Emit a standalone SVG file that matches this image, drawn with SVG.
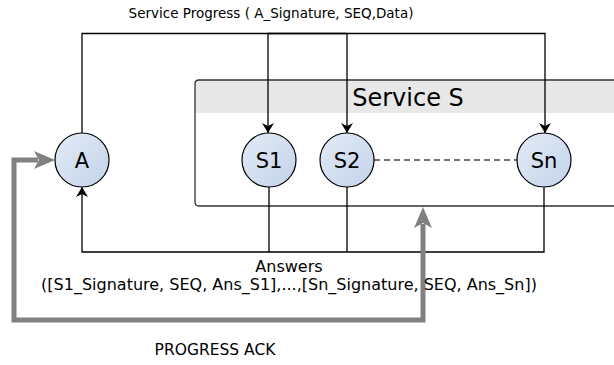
<svg xmlns="http://www.w3.org/2000/svg" width="614" height="365" viewBox="0 0 614 365">
  <defs>
    <linearGradient id="nodeFill" x1="0" y1="0" x2="1" y2="1">
      <stop offset="0" stop-color="#e3ebf6"/>
      <stop offset="1" stop-color="#c3d3ea"/>
    </linearGradient>
    <marker id="arrow" viewBox="0 0 10 12" refX="10" refY="6" markerWidth="10" markerHeight="12" markerUnits="userSpaceOnUse" orient="auto">
      <path d="M0,0 L10,6 L0,12 L3,6 Z" fill="#000"/>
    </marker>
  </defs>
  <style>
    text { font-family: "DejaVu Sans", "Liberation Sans", sans-serif; fill: #000; }
    .label { text-anchor: middle; }
    .node circle { fill: url(#nodeFill); stroke: #000; stroke-width: 1.2; }
    .node text { font-size: 21px; text-anchor: middle; }
    .wire { fill: none; stroke: #000; stroke-width: 1.3; }
    .ack { fill: none; stroke: #808080; stroke-width: 5; }
    .ack-head { fill: #808080; }
  </style>

  <rect width="614" height="365" fill="#fff"/>

  <!-- Service S container -->
  <g id="service-s">
    <path d="M199,80 H620 V113 H195 V84 Q195,80 199,80 Z" fill="#e8e8e8"/>
    <path d="M620,80 H199 Q195,80 195,84 V202 Q195,206 199,206 H620" fill="none" stroke="#333" stroke-width="1.3"/>
    <text x="408" y="106" font-size="24" text-anchor="middle">Service S</text>
  </g>

  <!-- connectors -->
  <g id="connectors">
    <path class="wire" d="M82,133 V33.5 H347 V133" marker-end="url(#arrow)"/>
    <path class="wire" d="M268,33.5 V133" marker-end="url(#arrow)"/>
    <path class="wire" d="M268,33.5 H545 V133" marker-end="url(#arrow)"/>
    <path class="wire" d="M269,187 V252 H82 V187" marker-end="url(#arrow)"/>
    <path class="wire" d="M347,187 V252"/>
    <path class="wire" d="M544,187 V252 H269"/>
    <path d="M374,160 H517" fill="none" stroke="#444" stroke-width="1.3" stroke-dasharray="6,4"/>
    <!-- progress acknowledgement loop -->
    <path class="ack" d="M423,224 V320 H14 V160 H38"/>
    <path class="ack-head" d="M423,207 L432,228 L423,223 L414,228 Z"/>
    <path class="ack-head" d="M55,160 L34,151 L39,160 L34,169 Z"/>
  </g>

  <!-- nodes -->
  <g id="node-a" class="node">
    <circle cx="82" cy="160" r="27"/>
    <text x="82" y="167.5">A</text>
  </g>
  <g id="node-s1" class="node">
    <circle cx="269" cy="160" r="27"/>
    <text x="269" y="167.5">S1</text>
  </g>
  <g id="node-s2" class="node">
    <circle cx="347" cy="160" r="27"/>
    <text x="347" y="167.5">S2</text>
  </g>
  <g id="node-sn" class="node">
    <circle cx="544" cy="160" r="27"/>
    <text x="544" y="167.5">Sn</text>
  </g>

  <!-- labels -->
  <text class="label" x="271" y="18" font-size="13.5">Service Progress ( A_Signature, SEQ,Data)</text>
  <text class="label" x="289" y="272" font-size="16">Answers</text>
  <text class="label" x="289" y="290" font-size="16">([S1_Signature, SEQ, Ans_S1],...,[Sn_Signature, SEQ, Ans_Sn])</text>
  <text class="label" x="215" y="355" font-size="15.5">PROGRESS ACK</text>
</svg>
